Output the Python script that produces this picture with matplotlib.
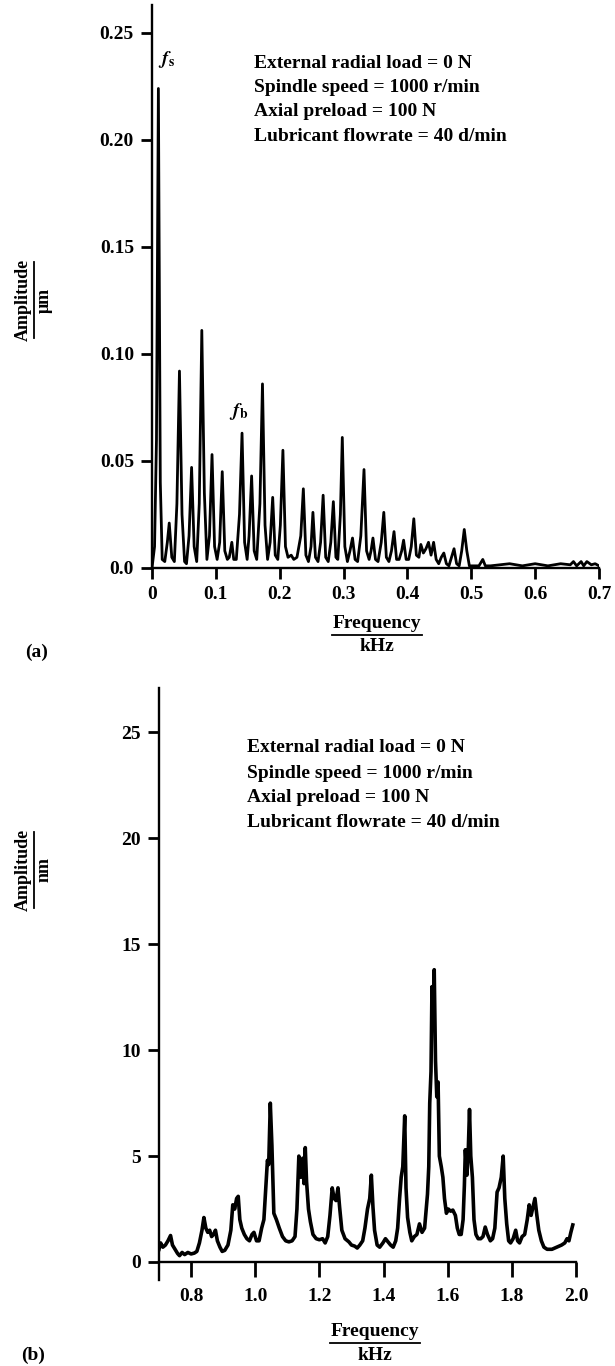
import matplotlib
matplotlib.use('Agg')
import matplotlib.pyplot as plt
from matplotlib.lines import Line2D

# ---------------- data: panel (a) ----------------
freq_a = [0.000, 0.004, 0.007, 0.010, 0.013, 0.016, 0.020, 0.024, 0.027, 0.031,
          0.035, 0.039, 0.043, 0.047, 0.051, 0.054, 0.058, 0.062, 0.066, 0.070,
          0.074, 0.078, 0.082, 0.086, 0.090, 0.094, 0.098, 0.102, 0.106, 0.110,
          0.114, 0.118, 0.121, 0.125, 0.128, 0.132, 0.137, 0.141, 0.145, 0.149,
          0.152, 0.156, 0.160, 0.164, 0.169, 0.173, 0.177, 0.181, 0.185, 0.189,
          0.193, 0.197, 0.201, 0.205, 0.209, 0.213, 0.218, 0.222, 0.227, 0.233,
          0.237, 0.241, 0.245, 0.249, 0.252, 0.256, 0.260, 0.264, 0.268, 0.272,
          0.276, 0.280, 0.284, 0.288, 0.291, 0.295, 0.298, 0.302, 0.306, 0.310,
          0.314, 0.318, 0.322, 0.327, 0.332, 0.336, 0.340, 0.343, 0.346, 0.350,
          0.354, 0.359, 0.363, 0.367, 0.371, 0.375, 0.379, 0.383, 0.387, 0.391,
          0.394, 0.398, 0.402, 0.406, 0.410, 0.414, 0.418, 0.421, 0.425, 0.429,
          0.433, 0.437, 0.441, 0.445, 0.449, 0.453, 0.457, 0.461, 0.465, 0.469,
          0.473, 0.477, 0.481, 0.485, 0.489, 0.493, 0.497, 0.505, 0.512, 0.518,
          0.522, 0.530, 0.545, 0.560, 0.580, 0.600, 0.620, 0.640, 0.655, 0.660,
          0.665, 0.672, 0.676, 0.681, 0.688, 0.694, 0.700]
amp_a = [0.000, 0.010, 0.060, 0.224, 0.040, 0.004, 0.003, 0.012, 0.021, 0.005,
         0.003, 0.030, 0.092, 0.025, 0.003, 0.002, 0.015, 0.047, 0.010, 0.003,
         0.030, 0.111, 0.035, 0.004, 0.015, 0.053, 0.010, 0.004, 0.012, 0.045,
         0.008, 0.004, 0.005, 0.012, 0.004, 0.004, 0.025, 0.063, 0.012, 0.004,
         0.015, 0.043, 0.008, 0.004, 0.030, 0.086, 0.020, 0.004, 0.012, 0.033,
         0.006, 0.004, 0.020, 0.055, 0.010, 0.005, 0.006, 0.004, 0.005, 0.015,
         0.037, 0.006, 0.003, 0.010, 0.026, 0.005, 0.003, 0.012, 0.034, 0.005,
         0.003, 0.012, 0.031, 0.005, 0.004, 0.025, 0.061, 0.010, 0.003, 0.008,
         0.014, 0.004, 0.003, 0.015, 0.046, 0.008, 0.004, 0.008, 0.014, 0.004,
         0.003, 0.012, 0.026, 0.005, 0.003, 0.008, 0.017, 0.004, 0.004, 0.008,
         0.013, 0.004, 0.004, 0.010, 0.023, 0.006, 0.005, 0.011, 0.007, 0.009,
         0.012, 0.006, 0.012, 0.004, 0.002, 0.005, 0.007, 0.002, 0.001, 0.005,
         0.009, 0.002, 0.001, 0.008, 0.018, 0.008, 0.001, 0.001, 0.001, 0.004,
         0.001, 0.001, 0.0015, 0.002, 0.001, 0.002, 0.001, 0.002, 0.0015, 0.003,
         0.001, 0.003, 0.001, 0.003, 0.0015, 0.002, 0.001]

xticks_a = [0, 0.1, 0.2, 0.3, 0.4, 0.5, 0.6, 0.7]
xticklabels_a = ['0', '0.1', '0.2', '0.3', '0.4', '0.5', '0.6', '0.7']
yticks_a = [0.0, 0.05, 0.10, 0.15, 0.20, 0.25]
yticklabels_a = ['0.0', '0.05', '0.10', '0.15', '0.20', '0.25']

# ---------------- data: panel (b) ----------------
freq_b = [0.700, 0.705, 0.712, 0.720, 0.728, 0.736, 0.742, 0.750, 0.758, 0.764,
          0.772, 0.780, 0.790, 0.800, 0.810, 0.818, 0.826, 0.834, 0.840, 0.846,
          0.852, 0.858, 0.864, 0.870, 0.876, 0.882, 0.890, 0.897, 0.905, 0.915,
          0.924, 0.930, 0.936, 0.942, 0.947, 0.952, 0.958, 0.966, 0.974, 0.982,
          0.990, 0.996, 1.004, 1.012, 1.020, 1.027, 1.033, 1.038, 1.042, 1.047,
          1.052, 1.058, 1.066, 1.075, 1.085, 1.095, 1.105, 1.115, 1.124, 1.130,
          1.136, 1.142, 1.148, 1.152, 1.156, 1.160, 1.166, 1.172, 1.180, 1.190,
          1.200, 1.210, 1.218, 1.226, 1.233, 1.240, 1.246, 1.252, 1.258, 1.263,
          1.270, 1.280, 1.292, 1.300, 1.310, 1.318, 1.326, 1.335, 1.342, 1.350,
          1.357, 1.362, 1.367, 1.372, 1.380, 1.388, 1.398, 1.406, 1.414, 1.422,
          1.430, 1.438, 1.444, 1.450, 1.455, 1.460, 1.466, 1.470, 1.475, 1.482,
          1.488, 1.496, 1.504, 1.512, 1.520, 1.528, 1.533, 1.537, 1.541, 1.544,
          1.548, 1.551, 1.555, 1.558, 1.562, 1.566, 1.570, 1.574, 1.580, 1.585,
          1.590, 1.596, 1.602, 1.609, 1.616, 1.624, 1.630, 1.636, 1.642, 1.648,
          1.652, 1.655, 1.660, 1.664, 1.668, 1.672, 1.677, 1.682, 1.688, 1.695,
          1.703, 1.710, 1.717, 1.724, 1.733, 1.740, 1.747, 1.754, 1.760, 1.767,
          1.773, 1.778, 1.784, 1.790, 1.796, 1.804, 1.812, 1.818, 1.824, 1.832,
          1.840, 1.848, 1.854, 1.860, 1.866, 1.872, 1.878, 1.884, 1.892, 1.900,
          1.910, 1.925, 1.940, 1.955, 1.965, 1.972, 1.978, 1.984, 1.990]
amp_b = [0.6, 0.9, 0.7, 0.8, 1.0, 1.25, 0.8, 0.6, 0.4, 0.3,
         0.45, 0.35, 0.45, 0.38, 0.42, 0.5, 0.9, 1.5, 2.1, 1.6,
         1.4, 1.5, 1.2, 1.3, 1.5, 1.0, 0.7, 0.5, 0.55, 0.8,
         1.5, 2.7, 2.5, 3.0, 3.1, 2.0, 1.6, 1.3, 1.1, 1.0,
         1.3, 1.4, 1.0, 1.0, 1.6, 2.0, 3.5, 4.8, 4.6, 7.5,
         5.5, 2.3, 2.0, 1.6, 1.2, 1.0, 0.95, 1.0, 1.2, 2.5,
         5.0, 4.0, 4.9, 3.7, 5.4, 3.8, 2.5, 1.9, 1.3, 1.1,
         1.05, 1.1, 0.9, 1.2, 2.2, 3.5, 3.0, 2.9, 3.5, 2.6,
         1.5, 1.1, 0.95, 0.8, 0.75, 0.66, 0.8, 1.0, 1.6, 2.5,
         3.0, 4.1, 2.6, 1.5, 0.8, 0.7, 0.9, 1.1, 0.95, 0.8,
         0.7, 1.0, 1.6, 3.0, 4.0, 4.5, 6.9, 3.5, 2.1, 1.4,
         1.0, 1.2, 1.3, 1.8, 1.4, 1.6, 2.5, 3.2, 4.5, 7.5,
         9.0, 13.0, 11.0, 13.8, 9.5, 7.8, 8.5, 5.0, 4.5, 4.0,
         3.0, 2.3, 2.5, 2.4, 2.45, 2.2, 1.6, 1.3, 1.3, 2.0,
         3.6, 5.3, 4.1, 5.2, 7.2, 5.0, 4.0, 2.0, 1.3, 1.1,
         1.1, 1.2, 1.65, 1.3, 1.0, 1.1, 1.6, 3.3, 3.5, 4.0,
         5.0, 3.0, 1.8, 1.0, 0.9, 1.1, 1.5, 1.0, 0.9, 1.2,
         1.3, 2.0, 2.7, 2.2, 2.6, 3.0, 2.2, 1.5, 1.0, 0.7,
         0.6, 0.6, 0.7, 0.8, 0.9, 1.1, 1.0, 1.4, 1.75]

xticks_b = [0.8, 1.0, 1.2, 1.4, 1.6, 1.8, 2.0]
xticklabels_b = ['0.8', '1.0', '1.2', '1.4', '1.6', '1.8', '2.0']
yticks_b = [0, 5, 10, 15, 20, 25]
yticklabels_b = ['0', '5', '10', '15', '20', '25']

conditions = ['External radial load = 0 N',
              'Spindle speed = 1000 r/min',
              'Axial preload = 100 N',
              'Lubricant flowrate = 40 d/min']

# ---------------- figure ----------------
plt.rcParams['font.family'] = ['Liberation Serif', 'DejaVu Serif']
plt.rcParams['font.weight'] = 'bold'
FS = 14
W, H = 615, 1366
fig = plt.figure(figsize=(W / 100, H / 100), dpi=100)


def fx(px):
    return px / W


def fy(py):
    return 1 - py / H


def style(ax):
    for s in ('top', 'right'):
        ax.spines[s].set_visible(False)
    for s in ('left', 'bottom'):
        ax.spines[s].set_linewidth(1.7)
    ax.tick_params(direction='out', length=8, width=2.0, labelsize=FS, pad=5)


# panel (a)
ax1 = fig.add_axes([fx(152), fy(568), fx(599) - fx(152), fy(5) - fy(568)])
ax1.plot(freq_a, amp_a, color='black', lw=2.0, solid_joinstyle='round')
ax1.set_xlim(0, 0.7)
ax1.set_ylim(0, 0.263)
ax1.set_xticks(xticks_a)
ax1.set_xticklabels(xticklabels_a)
ax1.set_yticks(yticks_a)
ax1.set_yticklabels(yticklabels_a)
style(ax1)

# panel (b): axes start slightly below zero so the left spine reaches past the x axis
ax2 = fig.add_axes([fx(159), fy(1280), fx(576) - fx(159), fy(688) - fy(1280)])
ax2.plot(freq_b, amp_b, color='black', lw=2.6, solid_joinstyle='round')
ax2.set_xlim(0.7, 2.0)
ax2.set_ylim(-0.85, 27.1)
ax2.spines['bottom'].set_position(('data', 0))
ax2.set_xticks(xticks_b)
ax2.set_xticklabels(xticklabels_b)
ax2.set_yticks(yticks_b)
ax2.set_yticklabels(yticklabels_b)
style(ax2)
ax2.tick_params(axis='x', length=11, pad=8)

# condition texts
for i, t in enumerate(conditions):
    fig.text(fx(254), fy(63 + 24.5 * i), t, fontsize=FS, ha='left', va='center')
    fig.text(fx(247), fy(748 + 25 * i), t, fontsize=FS, ha='left', va='center')

# peak labels
fig.text(fx(166), fy(60), r'$\mathbfit{f}_\mathbf{s}$', fontsize=FS, ha='center', va='center',
         math_fontfamily='stix')
fig.text(fx(239), fy(412), r'$\mathbfit{f}_\mathbf{b}$', fontsize=FS, ha='center', va='center',
         math_fontfamily='stix')


def frac_label_y(xc, yc, top, bottom, half=38):
    fig.text(fx(xc - 11), fy(yc), top, rotation=90, fontsize=FS - 1,
             ha='center', va='center')
    fig.add_artist(Line2D([fx(xc), fx(xc)], [fy(yc - half), fy(yc + half)],
                          color='black', lw=1.3, transform=fig.transFigure))
    fig.text(fx(xc + 10), fy(yc), bottom, rotation=90, fontsize=FS - 1,
             ha='center', va='center')


def frac_label_x(xc, yc, top, bottom, half=45):
    fig.text(fx(xc), fy(yc - 12), top, fontsize=FS, ha='center', va='center')
    fig.add_artist(Line2D([fx(xc - half), fx(xc + half)], [fy(yc), fy(yc)],
                          color='black', lw=1.3, transform=fig.transFigure))
    fig.text(fx(xc), fy(yc + 12), bottom, fontsize=FS, ha='center', va='center')


frac_label_y(34, 300, 'Amplitude', 'μm')
frac_label_y(34, 870, 'Amplitude', 'nm')
frac_label_x(377, 635, 'Frequency', 'kHz')
frac_label_x(375, 1343, 'Frequency', 'kHz')

fig.text(fx(37), fy(652), '(a)', fontsize=FS, ha='center', va='center')
fig.text(fx(33), fy(1355), '(b)', fontsize=FS, ha='center', va='center')

fig.savefig('out.png', dpi=100)
